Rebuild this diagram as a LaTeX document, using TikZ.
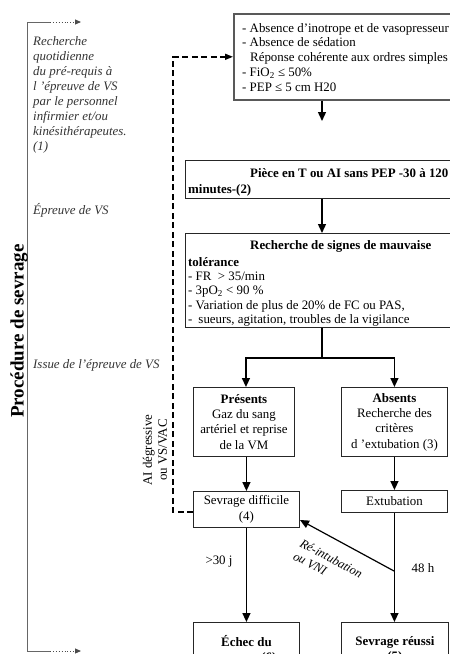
\documentclass[tikz,border=0pt]{standalone}
\usepackage{fontspec}
\setmainfont{Liberation Serif}
\usetikzlibrary{arrows.meta}
\begin{document}
\begin{tikzpicture}[x=1pt,y=1pt,
  box/.style={draw=black!85, line width=0.9pt, inner sep=0pt, fill=white, anchor=north west,
              align=center, font=\fontsize{12.9}{15.3}\selectfont},
  topbox/.style={box, draw=black!65, line width=1.6pt},
  txt/.style={font=\fontsize{12.9}{15}\selectfont, inner sep=0pt, anchor=base west},
  btxt/.style={txt, font=\bfseries\fontsize{12.9}{15}\selectfont},
  side/.style={font=\itshape\fontsize{12.9}{15}\selectfont, text=black!80, inner sep=0pt, align=left},
  arr/.style={line width=1.4pt, -{Triangle[length=9pt,width=8pt]}},
  plain/.style={line width=1.4pt},
  dsh/.style={line width=1.6pt, dash pattern=on 6pt off 3.5pt, -{Triangle[length=8pt,width=6pt]}},
  bar/.style={line width=0.7pt, draw=black!60},
  dotarr/.style={line width=0.9pt, draw=black!70, dotted, -{Triangle[length=6pt,width=5pt]}}
]
\useasboundingbox (0,0) rectangle (450,-654);
\clip (0,0) rectangle (450,-654);

% ---- boxes ----
\node[topbox, minimum width=219, minimum height=86] (pre) at (233,-13) {};
\node[box, minimum width=267, minimum height=38] (piece) at (185,-160) {};
\node[box, minimum width=267, minimum height=94] (sig) at (185,-233) {};
\node[box, minimum width=101, minimum height=69] (pres) at (193,-387)
  {\textbf{Présents}\\Gaz du sang\\artériel et reprise\\de la VM};
\node[box, minimum width=106, minimum height=69] (abs) at (341,-387)
  {\textbf{Absents}\\Recherche des\\critères\\d ’extubation (3)};
\node[box, minimum width=106, minimum height=36] (sd) at (193,-491)
  {Sevrage difficile\\(4)};
\node[box, minimum width=106, minimum height=22] (ext) at (341,-490) {Extubation};
\node[box, minimum width=106, minimum height=55] (echec) at (193,-622)
  {\textbf{Échec du}\\\textbf{sevrage (6)}};
\node[box, minimum width=107, minimum height=55] (reussi) at (341,-622)
  {\textbf{Sevrage réussi}\\\textbf{(5)}};

% ---- texts inside the wide boxes ----
\node[txt, anchor=north west, align=left, font=\fontsize{12.9}{14.8}\selectfont] (pretxt) at (242,-23)
  {- Absence d’inotrope et de vasopresseur\\- Absence de sédation\\\hspace*{8pt}Réponse cohérente aux ordres simples\\- FiO\textsubscript{2} ≤ 50\%\\- PEP ≤ 5 cm H20};
\node[btxt] (p1) at (250,-177) {Pièce en T ou AI sans PEP -30 à 120};
\node[btxt] (p2) at (188,-193) {minutes-(2)};
\node[btxt] (s1) at (250,-249) {Recherche de signes de mauvaise};
\node[btxt] (s2) at (188,-266.5) {tolérance};
\node[txt] (s3) at (188,-280.5) {- FR \ > 35/min};
\node[txt] (s4) at (188,-294.5) {- 3pO\textsubscript{2} < 90 \%};
\node[txt] (s5) at (188,-309) {- Variation de plus de 20\% de FC ou PAS,};
\node[txt] (s6) at (188,-323) {-\hspace{6pt}sueurs, agitation, troubles de la vigilance};

% ---- connectors ----
\coordinate (c1) at (322,-121);
\draw[arr] (c1 |- pre.south) -- (c1);
\coordinate (mid) at (322,-358);
\draw[arr] (mid |- piece.south) -- (mid |- sig.north);
\draw[plain] (mid |- sig.south) -- (mid);
\draw[arr] (mid) -| ([xshift=2pt]pres.north);
\draw[arr] (mid) -| (abs.north);
\draw[arr] (sd.north |- pres.south) -- (sd.north);
\draw[arr] (sd.south) -- (echec.north);
\draw[arr] (abs.south) -- (ext.north);
\draw[arr] (ext.south) -- (ext.south |- reussi.north);
\coordinate (rs) at (394,-571);
\coordinate (re) at (300,-520);
\draw[arr, line width=1.2pt] (rs) -- (re);
\node[font=\itshape\fontsize{12.5}{14.5}\selectfont, rotate=-28, align=left, inner sep=0pt] (relab) at (328,-565)
  {Ré-intubation\\ou VNI};
\node[font=\fontsize{12.9}{15}\selectfont, inner sep=0pt] (l30) at (219,-562) {>30 j};
\node[font=\fontsize{12.9}{15}\selectfont, inner sep=0pt] (l48) at (423,-568) {48 h};

% dashed return loop
\coordinate (dl) at (173,-512);
\draw[dsh] (sd.west |- dl) -- (dl) -- (dl |- pre.west) -- (pre.west);
\node[font=\fontsize{12.9}{15}\selectfont, rotate=90, align=center, inner sep=0pt] (ailab) at (155,-450)
  {AI dégressive\\ou VS/VAC};

% ---- left procedure bar ----
\coordinate (lt) at (27,-22);
\coordinate (ltm) at (50,-22);
\coordinate (lte) at (81,-22);
\coordinate (lb) at (27,-651);
\coordinate (lbm) at (50,-651);
\coordinate (lbe) at (81,-651);
\draw[bar] (lt) -- (lb);
\draw[bar] (lt) -- (ltm);
\draw[dotarr] (ltm) -- (lte);
\draw[bar] (lb) -- (lbm);
\draw[dotarr] (lbm) -- (lbe);
\node[font=\bfseries\fontsize{19}{22}\selectfont, rotate=90, inner sep=0pt] (proc) at (19,-331) {Procédure de sevrage};

\node[side, anchor=north west] (t1) at (33,-36)
  {Recherche\\quotidienne\\du pré-requis à\\l ’épreuve de VS\\par le personnel\\infirmier et/ou\\kinésithérapeutes.\\(1)};
\node[side, anchor=west] (t2) at (33,-210) {Épreuve de VS};
\node[side, anchor=west] (t3) at (33,-365) {Issue de l’épreuve de VS};
\end{tikzpicture}
\end{document}
